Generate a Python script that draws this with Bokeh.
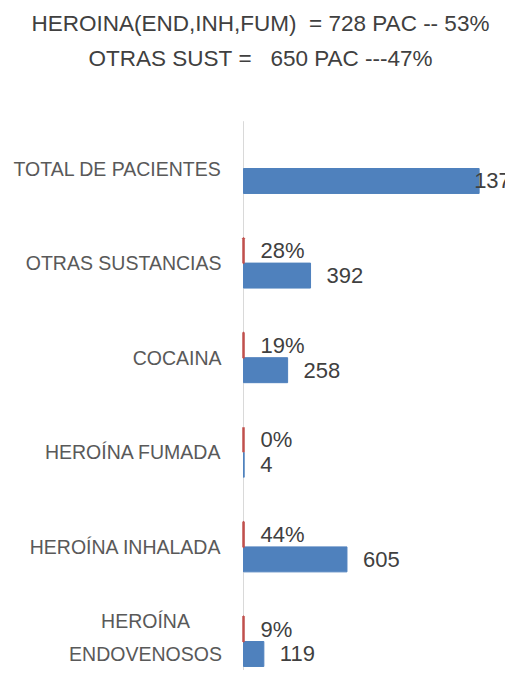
from bokeh.plotting import figure
from bokeh.models import ColumnDataSource, Range1d, Label
from bokeh.core.properties import value
from bokeh.embed import file_html
from bokeh.resources import INLINE

# ---- data (bottom to top) ----
categories = ["HEROÍNA\nENDOVENOSOS", "HEROÍNA INHALADA", "HEROÍNA FUMADA",
              "COCAINA", "OTRAS SUSTANCIAS", "TOTAL DE PACIENTES"]
patients = [119, 605, 4, 258, 392, 1378]
share = [0.09, 0.44, 0.00, 0.19, 0.28, None]
title_lines = ["HEROINA(END,INH,FUM)  = 728 PAC -- 53%",
               "OTRAS SUST =   650 PAC ---47%"]

BLUE = "#4F81BD"
RED = "#C0504D"
FONT = "Liberation Sans"

# ---- layout (pixels) ----
W, H = 505, 670
AXIS_X = 243          # canvas x of the value axis
PX_PER_UNIT = 0.171   # horizontal scale
TOP_CENTER = 168      # canvas y of the top category centre
SLOT = 94.6           # px per category

pos = list(range(len(categories)))
bar_h = 0.264
n = len(categories)

x_range = Range1d(-AXIS_X / PX_PER_UNIT, (W - AXIS_X) / PX_PER_UNIT)
y_top = (n - 1) + TOP_CENTER / SLOT
y_range = Range1d(y_top - H / SLOT, y_top)

src_n = ColumnDataSource(dict(
    y=[p - bar_h / 2 for p in pos],
    v=patients,
    lbl=[str(v) for v in patients],
    dx=[-5 if v == max(patients) else 16 for v in patients],
))
idx_s = [i for i, s in enumerate(share) if s is not None]
src_s = ColumnDataSource(dict(
    y=[pos[i] + bar_h / 2 for i in idx_s],
    v=[share[i] for i in idx_s],
    lbl=[f"{round(share[i] * 100)}%" for i in idx_s],
))
src_c = ColumnDataSource(dict(
    x=[0] * n, y=pos, t=categories,
    al=["center" if "\n" in c else "right" for c in categories],
    dx=[-98 if "\n" in c else -22 for c in categories],
    dy=[-4 if "\n" in c else 0 for c in categories],
))

p = figure(width=W, height=H, output_backend="svg", toolbar_location=None,
           x_range=x_range, y_range=y_range, min_border=0,
           x_axis_location=None, y_axis_location=None)
p.outline_line_color = None
p.grid.visible = False
p.background_fill_color = "white"
p.border_fill_color = "white"

# value axis line
p.segment(x0=[0], y0=[y_range.start], x1=[0], y1=[n - 0.5],
          line_color="#D9D9D9", line_width=1)

p.hbar(y="y", left=0, right="v", height=bar_h, source=src_n,
       fill_color=BLUE, line_color=BLUE, line_width=1)
p.hbar(y="y", left=0, right="v", height=bar_h, source=src_s,
       fill_color=RED, line_color=RED, line_width=2.5)

p.text(x="v", y="y", text="lbl", source=src_n, x_offset="dx",
       text_font=value(FONT), text_font_size="22px", text_color="#404040",
       text_baseline="middle", text_align="left")
p.text(x="v", y="y", text="lbl", source=src_s, x_offset=17,
       text_font=value(FONT), text_font_size="22px", text_color="#404040",
       text_baseline="middle", text_align="left")

# category labels
p.text(x="x", y="y", text="t", source=src_c, x_offset="dx", y_offset="dy",
       text_align="al",
       text_font=value(FONT), text_font_size="19.5px", text_color="#595959",
       text_baseline="middle", text_line_height=1.5)

for i, t in enumerate(title_lines):
    p.add_layout(Label(x=260, y=H - (23 + 35 * i),
                       x_units="screen", y_units="screen",
                       text=t.replace(" ", "\u00a0"), text_align="center",
                       text_baseline="middle",
                       text_font=FONT, text_font_size="22.5px", text_color="#404040"))

open("out.html", "w").write(file_html(p, INLINE))
